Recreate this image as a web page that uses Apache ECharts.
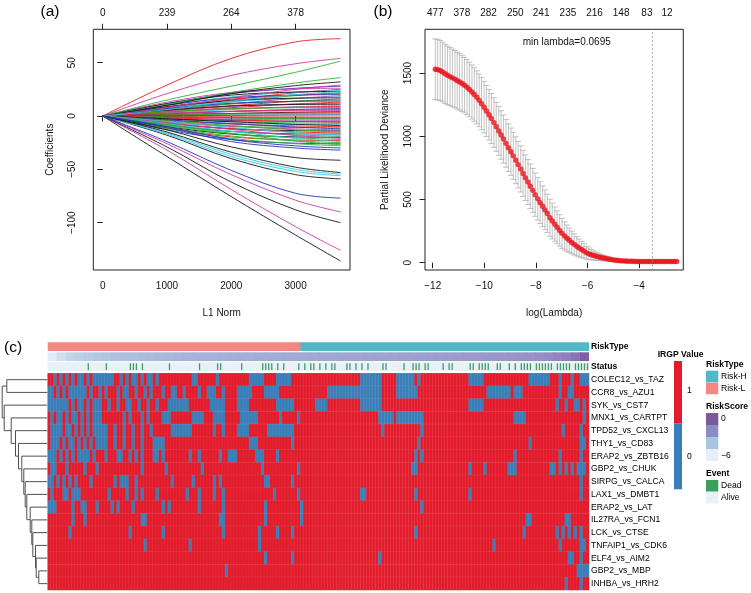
<!DOCTYPE html>
<html><head><meta charset="utf-8">
<script src="https://cdn.jsdelivr.net/npm/echarts@6/dist/echarts.min.js"></script>
<style>html,body{margin:0;padding:0;background:#fff}#c{width:751px;height:593px}</style>
</head><body><div id="c"></div>
<script>
// ================= DATA =================
// ---- Panel (a): coefficient paths ----
const l1Norm = [0, 1000, 2000, 3000, 3700];
const pathTopPos = [0, 1000, 2000, 3000];
const pathTopLabels = ['0', '239', '264', '378'];
const pathColor = [
  'b','m','r','c','k','g','r','b','m','c','k','r','g','b','r','m','k','c','r','g','b','r','m','k','r','g','b',
  'r','k','g','m','b','r','g','c','k','r','g','b','m','k','g','r','b','c','g','k','m','g','r','c','g','b','g','g',
  'r','m','g','g','k','m','c','k','m','k','m','b','k','c','c','k','k','b','b'
];
const pathCoef = [
  [0,11.8,21,26,28],[0,13,22.1,25.5,26],[0,7.5,15,21.8,25],[0,10.1,18,22.3,24],[0,11.5,19.6,22.5,23],
  [0,6.6,13.2,19.1,22],[0,8.8,15.8,19.5,21],[0,10,17,19.6,20],[0,5.7,11.4,16.5,19],[0,7.6,13.5,16.7,18],
  [0,8.5,14.5,16.7,17],[0,4.8,9.6,13.9,16],[0,6.3,11.3,14,15],[0,7,11.9,13.7,14],[0,3.9,7.8,11.3,13],
  [0,5,9,11.2,12],[0,5.5,9.4,10.8,11],[0,3,6,8.7,10],[0,3.8,6.8,8.4,9],[0,4,6.8,7.8,8],
  [0,2.1,4.2,6.1,7],[0,2.5,4.5,5.6,6],[0,2.5,4.3,4.9,5],[0,1.2,2.4,3.5,4],[0,1.3,2.3,2.8,3],
  [0,1,1.7,2,2],[0,0.3,0.6,0.9,1],
  [0,-0.4,-0.8,-0.9,-1],[0,-1,-1.7,-2,-2],[0,-0.9,-1.8,-2.6,-3],[0,-1.7,-3,-3.7,-4],[0,-2.5,-4.3,-4.9,-5],
  [0,-1.8,-3.6,-5.2,-6],[0,-2.9,-5.3,-6.5,-7],[0,-4,-6.8,-7.8,-8],[0,-2.7,-5.4,-7.8,-9],[0,-4.2,-7.5,-9.3,-10],
  [0,-5.5,-9.4,-10.8,-11],[0,-3.6,-7.2,-10.4,-12],[0,-5.5,-9.8,-12.1,-13],[0,-7,-11.9,-13.7,-14],[0,-4.5,-9,-13,-15],
  [0,-6.7,-12,-14.9,-16],[0,-8.5,-14.5,-16.7,-17],[0,-5.4,-10.8,-15.7,-18],[0,-8,-14.3,-17.7,-19],[0,-10,-17,-19.6,-20],
  [0,-6.3,-12.6,-18.3,-21],[0,-9.2,-16.5,-20.5,-22],[0,-11.5,-19.6,-22.5,-23],[0,-7.2,-14.4,-20.9,-24],[0,-10.5,-18.8,-23.3,-25],
  [0,-13,-22.1,-25.5,-26],[0,-8.1,-16.2,-23.5,-27],[0,-11.8,-21,-26,-28],
  [0,29,54,69.5,72.5],[0,21,38,49,54],[0,15,28,41,51.5],[0,11,22,31,36],[0,10,21,28.5,32],[0,8,17,25,29],[0,6,14,20,23],
  [0,-38,-75.6,-111.6,-136],[0,-32,-69,-103.8,-126],[0,-29,-62,-88,-100],[0,-26,-55,-79,-90],[0,-24,-51,-72.5,-77],
  [0,-18,-40,-55,-59],[0,-17,-38,-52,-56],[0,-16,-36,-50,-54.5],[0,-15,-34,-48,-53],[0,-13,-29,-39,-41.5],
  [0,-11,-24,-30,-32],[0,-10,-22,-28,-30]
];

// ---- Panel (b): cross-validation ----
const logLambda = [
  -11.90,-11.81,-11.71,-11.62,-11.52,-11.43,-11.33,-11.24,-11.14,-11.05,
  -10.96,-10.86,-10.77,-10.67,-10.58,-10.48,-10.39,-10.29,-10.20,-10.11,
  -10.01,-9.92,-9.82,-9.73,-9.63,-9.54,-9.44,-9.35,-9.26,-9.16,
  -9.07,-8.97,-8.88,-8.78,-8.69,-8.59,-8.50,-8.41,-8.31,-8.22,
  -8.12,-8.03,-7.93,-7.84,-7.74,-7.65,-7.56,-7.46,-7.37,-7.27,
  -7.18,-7.08,-6.99,-6.89,-6.80,-6.71,-6.61,-6.52,-6.42,-6.33,
  -6.23,-6.14,-6.04,-5.95,-5.86,-5.76,-5.67,-5.57,-5.48,-5.38,
  -5.29,-5.19,-5.10,-5.01,-4.91,-4.82,-4.72,-4.63,-4.53,-4.44,
  -4.34,-4.25,-4.16,-4.06,-3.97,-3.87,-3.78,-3.68,-3.59,-3.49,
  -3.40,-3.31,-3.21,-3.12,-3.02,-2.93,-2.83,-2.74,-2.64,-2.55
];
const cvMean = [
  1530,1527,1520,1508,1494,1482,1472,1462,1452,1440,
  1430,1418,1404,1388,1370,1350,1330,1308,1284,1258,
  1230,1200,1170,1140,1108,1075,1042,1010,978,944,
  910,878,845,810,776,742,706,672,638,605,
  572,538,505,475,446,418,390,355,330,305,
  280,255,232,212,194,177,160,145,130,117,
  104,93,78,70,63,57,51,46,41,37,
  33,29,25,22,19,17,15,14,13,12,
  11,11,10,10,10,10,10,10,10,10,
  10,10,10,10,10,10,10,10,10,10
];
const cvSE = [
  240,240,238,236,234,232,230,228,226,225,
  224,222,220,218,216,214,212,210,208,206,
  204,202,200,198,196,194,193,192,190,189,
  188,187,186,185,184,183,182,180,178,176,
  174,171,168,165,161,157,152,147,142,136,
  130,124,118,111,104,97,90,83,76,70,
  63,57,51,46,41,36,32,28,25,22,
  19,16,14,12,11,10,9,8,7,6,
  6,5,5,5,5,4,4,4,4,4,
  4,4,4,4,4,4,4,4,4,4
];
const nzeroPos = [-11.9,-10.87,-9.84,-8.8,-7.8,-6.76,-5.73,-4.7,-3.7,-2.92];
const nzeroLabels = ['477','378','282','250','241','235','216','148','83','12'];
const minLineLog = -3.48;
const minLambdaText = 'min lambda=0.0695';

// ---- Panel (c): IRGP heatmap ----
const pairNames = ['COLEC12_vs_TAZ','CCR8_vs_AZU1','SYK_vs_CST7','MNX1_vs_CARTPT','TPD52_vs_CXCL13','THY1_vs_CD83',
  'ERAP2_vs_ZBTB16','GBP2_vs_CHUK','SIRPG_vs_CALCA','LAX1_vs_DMBT1','ERAP2_vs_LAT','IL27RA_vs_FCN1','LCK_vs_CTSE',
  'TNFAIP1_vs_CDK6','ELF4_vs_AIM2','GBP2_vs_MBP','INHBA_vs_HRH2'];
const nCols = 180;            // sample columns (sorted by risk score)
const lowRiskCols = 84;       // first columns are Risk-L
// value-0 (blue) runs per row, inclusive [start,end]; everything else is 1 (red)
const zeroRuns = [
  [[2,2],[4,4],[6,6],[8,8],[10,11],[13,13],[15,21],[24,24],[26,26],[28,29],[31,31],[33,34],[36,36],[48,49],[56,56],[67,71],[76,80],[104,110],[116,121],[123,123],[140,144],[160,166],[170,170],[174,174],[177,179]],
  [[0,1],[3,3],[5,5],[7,12],[14,14],[17,17],[19,19],[23,23],[25,26],[29,29],[32,32],[34,34],[38,38],[41,42],[45,45],[50,50],[53,55],[58,58],[63,67],[72,76],[93,110],[116,122],[146,153],[155,157],[170,170],[173,174]],
  [[0,6],[8,8],[10,11],[13,13],[15,17],[20,20],[23,23],[26,27],[30,30],[33,33],[36,36],[40,46],[54,58],[63,66],[76,81],[89,92],[104,110],[140,144],[169,169],[172,172],[175,176],[178,178]],
  [[1,1],[3,4],[6,6],[8,9],[11,11],[13,13],[15,17],[25,25],[27,27],[31,31],[33,33],[38,40],[48,51],[55,58],[64,69],[77,77],[83,83],[110,114],[116,124],[155,158],[178,178]],
  [[1,4],[6,7],[9,9],[11,11],[13,13],[15,19],[22,22],[25,25],[28,28],[31,31],[34,34],[41,47],[55,55],[58,58],[63,66],[73,81],[111,111],[124,124],[171,171],[177,177]],
  [[1,3],[5,5],[7,8],[10,10],[12,12],[14,14],[16,19],[22,22],[25,25],[28,28],[31,31],[35,38],[67,69],[81,81],[123,123],[160,160],[177,178]],
  [[0,2],[4,4],[6,6],[8,8],[10,13],[15,15],[19,19],[23,24],[27,27],[29,29],[31,31],[35,36],[38,38],[47,47],[50,50],[57,57],[60,62],[69,71],[76,76],[122,122],[124,124],[155,155],[170,170],[177,177]],
  [[1,2],[6,6],[12,12],[16,16],[31,31],[39,39],[51,51],[71,71],[83,83],[121,122],[140,140],[145,145],[153,155],[167,168],[170,170],[172,172],[174,174],[176,178]],
  [[0,1],[3,3],[5,5],[7,7],[9,9],[14,14],[22,22],[24,26],[29,29],[41,41],[48,48],[55,55],[57,57],[72,73],[81,81],[177,177]],
  [[1,1],[5,6],[8,10],[20,20],[26,26],[29,29],[31,31],[36,36],[46,46],[50,50],[55,55],[58,58],[75,75],[83,83],[104,105],[122,122],[140,140],[177,177]],
  [[0,2],[8,8],[11,12],[16,16],[21,21],[23,23],[28,28],[38,38],[40,40],[50,50],[58,58],[72,72],[84,84],[124,124]],
  [[8,8],[12,12],[31,32],[57,58],[72,72],[84,84],[159,160],[172,173]],
  [[7,7],[27,27],[38,38],[58,58],[70,70],[76,76],[81,81],[122,122],[158,158],[169,169],[171,171],[173,173],[175,175],[177,177]],
  [[32,32],[47,47],[70,70],[148,148],[170,170],[177,178]],
  [[72,72],[81,81],[110,110],[173,174],[177,177]],
  [[59,59],[176,179]],
  [[172,172],[177,177]]
];
// risk score, one value per block of 3 sample columns (ascending)
const riskScore = [
  -6.0,-5.2,-4.7,-4.4,-4.2,-4.0,-3.85,-3.7,-3.6,-3.5,
  -3.42,-3.35,-3.28,-3.22,-3.16,-3.1,-3.05,-3.0,-2.96,-2.92,
  -2.88,-2.84,-2.8,-2.77,-2.74,-2.71,-2.68,-2.65,-2.62,-2.59,
  -2.56,-2.53,-2.5,-2.47,-2.44,-2.41,-2.38,-2.35,-2.32,-2.29,
  -2.26,-2.22,-2.18,-2.14,-2.1,-2.06,-2.02,-1.97,-1.92,-1.87,
  -1.82,-1.76,-1.69,-1.61,-1.52,-1.41,-1.28,-1.1,-0.8,-0.2
];
// sample columns with Dead status
const deadCols = [13,19,27,28,29,31,40,50,56,57,64,71,72,73,74,76,78,83,85,87,88,90,92,94,95,99,100,102,104,106,
  111,112,118,121,122,123,125,126,131,133,134,140,141,143,144,145,146,149,150,153,155,157,158,159,160,162,163,164,
  165,166,167,169,170,171,172,173,175,176,177,178,179];
const annotNames = ['RiskType','RiskScore','Status'];
// row dendrogram, hclust-style merges: negative = leaf (1-based), positive = earlier merge; third = height
const dendroMerges = [
  [-16,-17,8.4],[-15,1,11.0],[-14,2,11.7],[-13,3,14.4],[-12,4,15.4],[-11,5,17.0],[-10,6,20.4],[-9,7,22.0],
  [-8,8,23.4],[-7,9,25.4],[-6,10,28.7],[-5,11,31.7],[-4,12,36.0],[-1,-2,40.4],[-3,13,43.0],[14,15,45.0]
];
const legendIRGP = {title:'IRGP Value', labels:['1','0']};
const legendRiskType = {title:'RiskType', labels:['Risk-H','Risk-L']};
const legendRiskScore = {title:'RiskScore', labels:['0','\u22126']};
const legendEvent = {title:'Event', labels:['Dead','Alive']};

// ================= STYLE =================
const FF = 'Liberation Sans, Arial, Helvetica, sans-serif';
const COL = {k:'#141414', r:'#EE1C1C', g:'#2DB02D', b:'#2630C0', c:'#2CC8E0', m:'#CC3AA8'};
const RED = '#E21C2C', BLUE = '#3A7EB7';
const RISK_H = '#4FB9C8', RISK_L = '#F4877F';
const DEAD = '#3E9E5E', ALIVE = '#E8F1F8';
const SCORE_COLORS = ['#E2ECF6','#BDD3E8','#A3B3D7','#978FC5','#7B559C'];
const fmtMinus = v => (v < 0 ? '\u2212' + Math.abs(v) : String(v));
const TXT = {fontFamily: FF, fontSize: 10, color: '#111'};

// ================= BUILD =================
const series = [];
// (a)
pathCoef.forEach((vals, i) => {
  series.push({type:'line', xAxisIndex:0, yAxisIndex:0, silent:true, showSymbol:false, smooth:0.35,
    lineStyle:{width:0.9, color: COL[pathColor[i]]}, data: l1Norm.map((x, j) => [x, vals[j]])});
});
// (b) error bars
series.push({type:'custom', xAxisIndex:2, yAxisIndex:1, silent:true,
  data: logLambda.map((x, i) => [x, cvMean[i] - cvSE[i], cvMean[i] + cvSE[i]]),
  renderItem: (p, api) => {
    const x = api.value(0), lo = api.coord([x, api.value(1)]), hi = api.coord([x, api.value(2)]);
    const st = {stroke:'#B2B2B2', lineWidth:0.8}, cap = 3;
    return {type:'group', children:[
      {type:'line', shape:{x1:lo[0], y1:lo[1], x2:hi[0], y2:hi[1]}, style:st},
      {type:'line', shape:{x1:hi[0]-cap, y1:hi[1], x2:hi[0]+cap, y2:hi[1]}, style:st},
      {type:'line', shape:{x1:lo[0]-cap, y1:lo[1], x2:lo[0]+cap, y2:lo[1]}, style:st}]};
  }});
series.push({type:'scatter', xAxisIndex:2, yAxisIndex:1, silent:true, symbolSize:5.4,
  itemStyle:{color:'#E8141C'}, data: logLambda.map((x, i) => [x, cvMean[i]]),
  markLine:{silent:true, symbol:'none', label:{show:false},
    lineStyle:{type:[1.5,2.5], color:'#8A8A8A', width:0.9}, data:[{xAxis:minLineLog}]}});
// (c) annotation rows
const annotRect = (fillFn) => (p, api) => {
  const s = api.coord([api.value(0), api.value(2)]), e = api.coord([api.value(1), api.value(2)]);
  const h = api.size([0, 1])[1];
  const ov = p.dataIndex < p.dataInsideLength - 1 ? 0.8 : 0;
  return {type:'rect', shape:{x:s[0], y:s[1]-h/2+0.6, width:e[0]-s[0]+ov, height:h-1.2}, style:{fill: fillFn(api)}};
};
series.push({type:'custom', xAxisIndex:4, yAxisIndex:2, silent:true,
  data:[[0, lowRiskCols, 0, 0], [lowRiskCols, nCols, 0, 1]],
  renderItem: annotRect(api => api.value(3) === 0 ? RISK_L : RISK_H)});
const scoreSeriesIndex = series.length;
series.push({type:'custom', xAxisIndex:4, yAxisIndex:2, silent:true,
  data: riskScore.map((v, i) => [i*3, i*3+3, 1, v]),
  renderItem: annotRect(api => api.visual('color'))});
series.push({type:'custom', xAxisIndex:4, yAxisIndex:2, silent:true,
  data:[[0, nCols, 2]], renderItem: annotRect(() => ALIVE)});
series.push({type:'custom', xAxisIndex:4, yAxisIndex:2, silent:true,
  data: deadCols.map(c => [c + 0.5, 2]),
  renderItem: (p, api) => {
    const c = api.coord([api.value(0), api.value(1)]), h = api.size([0, 1])[1];
    return {type:'rect', shape:{x:c[0]-0.65, y:c[1]-h/2+1.6, width:1.3, height:h-3.2}, style:{fill:DEAD}};
  }});
// (c) heatmap cells
const hmData = [];
zeroRuns.forEach((runs, r) => {
  for (let c = 0; c < nCols; c++) {
    const isZero = runs.some(([s, e]) => c >= s && c <= e);
    hmData.push([c, r, isZero ? 0 : 1]);
  }
});
const hmSeriesIndex = series.length;
series.push({type:'heatmap', xAxisIndex:5, yAxisIndex:3, silent:true, progressive:0, data: hmData,
  itemStyle:{borderColor:'rgba(255,255,255,0.12)', borderWidth:0.5}, emphasis:{disabled:true}});
// (c) dendrogram
const leafPos = i => i - 1;
const mPos = [], mH = [];
const segs = dendroMerges.map(([a, b, h]) => {
  const ya = a < 0 ? leafPos(-a) : mPos[a-1], ha = a < 0 ? 0 : mH[a-1];
  const yb = b < 0 ? leafPos(-b) : mPos[b-1], hb = b < 0 ? 0 : mH[b-1];
  mPos.push((ya + yb) / 2); mH.push(h);
  return [ya, ha, yb, hb, h];
});
series.push({type:'custom', xAxisIndex:6, yAxisIndex:4, silent:true, data: segs,
  renderItem: (p, api) => {
    const ya = api.value(0), ha = api.value(1), yb = api.value(2), hb = api.value(3), h = api.value(4);
    const pts = [api.coord([ha, ya]), api.coord([h, ya]), api.coord([h, yb]), api.coord([hb, yb])];
    return {type:'polyline', shape:{points:pts}, style:{stroke:'#505050', lineWidth:1, fill:null}};
  }});

const noSplit = {show:false};
const hidden = {show:false};
const lookup = (pos, lab) => v => { const i = pos.findIndex(p => Math.abs(p - v) < 1e-6); return i < 0 ? '' : lab[i]; };

const option = {
  animation:false,
  backgroundColor:'#fff',
  grid:[
    {left:93.3, top:29.3, width:256.7, height:240.7, show:true, borderColor:'#222', borderWidth:1, backgroundColor:'transparent'},
    {left:425, top:29.3, width:258.3, height:240.7, show:true, borderColor:'#222', borderWidth:1, backgroundColor:'transparent'},
    {left:47.7, top:341.7, width:541.3, height:30},
    {left:47.7, top:373.3, width:541.3, height:216.7},
    {left:0, top:373.3, width:47.2, height:216.7}
  ],
  xAxis:[
    {type:'value', gridIndex:0, min:-146, max:3846, splitLine:noSplit, axisLine:hidden,
     axisTick:{customValues:[0,1000,2000,3000], length:5.5, lineStyle:{color:'#222'}},
     axisLabel:{customValues:[0,1000,2000,3000], margin:11, formatter:fmtMinus, ...TXT},
     name:'L1 Norm', nameLocation:'middle', nameGap:38, nameTextStyle:{...TXT}},
    {type:'value', gridIndex:0, position:'top', min:-146, max:3846, splitLine:noSplit, axisLine:hidden,
     axisTick:{customValues:pathTopPos, length:5.5, lineStyle:{color:'#222'}},
     axisLabel:{customValues:pathTopPos, margin:11, formatter: lookup(pathTopPos, pathTopLabels), ...TXT}},
    {type:'value', gridIndex:1, min:-12.3, max:-2.29, splitLine:noSplit, axisLine:hidden,
     axisTick:{customValues:[-12,-10,-8,-6,-4], length:5.5, lineStyle:{color:'#222'}},
     axisLabel:{customValues:[-12,-10,-8,-6,-4], margin:11, formatter:fmtMinus, ...TXT},
     name:'log(Lambda)', nameLocation:'middle', nameGap:38, nameTextStyle:{...TXT}},
    {type:'value', gridIndex:1, position:'top', min:-12.3, max:-2.29, splitLine:noSplit, axisLine:hidden,
     axisTick:{show:false},
     axisLabel:{customValues:nzeroPos, margin:11, formatter: lookup(nzeroPos, nzeroLabels), ...TXT}},
    {type:'value', gridIndex:2, min:0, max:nCols, show:false},
    {type:'category', gridIndex:3, data:[...Array(nCols).keys()], show:false},
    {type:'value', gridIndex:4, min:0, max:47.2, inverse:true, show:false}
  ],
  yAxis:[
    {type:'value', gridIndex:0, min:-144.4, max:81.3, splitLine:noSplit, axisLine:hidden,
     axisTick:{customValues:[-100,-50,0,50], length:5.5, lineStyle:{color:'#222'}},
     axisLabel:{customValues:[-100,-50,0,50], rotate:90, margin:16, formatter:fmtMinus, ...TXT},
     name:'Coefficients', nameLocation:'middle', nameRotate:90, nameGap:38, nameTextStyle:{...TXT}},
    {type:'value', gridIndex:1, min:-57.8, max:1846, splitLine:noSplit, axisLine:hidden,
     axisTick:{customValues:[0,500,1000,1500], length:5.5, lineStyle:{color:'#222'}},
     axisLabel:{customValues:[0,500,1000,1500], rotate:90, margin:12, formatter:fmtMinus, ...TXT},
     name:'Partial Likelihood Deviance', nameLocation:'middle', nameRotate:90, nameGap:35, nameTextStyle:{...TXT}},
    {type:'category', gridIndex:2, data:annotNames, inverse:true, position:'right',
     axisLine:hidden, axisTick:hidden, splitLine:noSplit,
     axisLabel:{margin:2, fontFamily:FF, fontSize:8.6, fontWeight:'bold', color:'#000'}},
    {type:'category', gridIndex:3, data:pairNames, inverse:true, position:'right',
     axisLine:hidden, axisTick:hidden, splitLine:noSplit,
     axisLabel:{margin:2, fontFamily:FF, fontSize:8.6, color:'#000', interval:0}},
    {type:'value', gridIndex:4, min:-0.5, max:pairNames.length - 0.5, inverse:true, show:false}
  ],
  visualMap:[
    {type:'piecewise', show:false, seriesIndex:hmSeriesIndex, dimension:2,
     pieces:[{value:0, color:BLUE}, {value:1, color:RED}]},
    {type:'continuous', show:false, seriesIndex:scoreSeriesIndex, dimension:3, min:-6, max:0,
     inRange:{color:SCORE_COLORS}}
  ],
  series: series,
  graphic: (() => {
    const g = [];
    const t = (x, y, text, o = {}) => g.push({type:'text', x, y, silent:true,
      style:{text, fontFamily:FF, fontSize:o.fs || 8.6, fontWeight:o.fw || 'normal', fill:'#000',
             align:o.al || 'left', verticalAlign:'middle'}});
    const r = (x, y, w, h, fill) => g.push({type:'rect', silent:true, shape:{x, y, width:w, height:h}, style:{fill}});
    t(50, 12, '(a)', {fs:15.5, al:'center'});
    t(383, 12, '(b)', {fs:15.5, al:'center'});
    t(13, 348, '(c)', {fs:15.5, al:'center'});
    g.push({type:'text', x:566.7, y:42.7, silent:true,
      style:{text:minLambdaText, fontFamily:FF, fontSize:10, fill:'#111', align:'center', verticalAlign:'middle'}});
    // IRGP value legend
    t(657.7, 354.3, legendIRGP.title, {fw:'bold'});
    r(674, 361, 8, 62.3, RED); r(674, 423.3, 8, 66, BLUE);
    t(687, 391, legendIRGP.labels[0]); t(687, 457, legendIRGP.labels[1]);
    // RiskType
    t(706, 364.3, legendRiskType.title, {fw:'bold'});
    r(706, 370.7, 12.3, 11.6, RISK_H); r(706, 382.6, 12.3, 11.6, RISK_L);
    t(721, 376.5, legendRiskType.labels[0]); t(721, 388.5, legendRiskType.labels[1]);
    // RiskScore
    t(706, 406.7, legendRiskScore.title, {fw:'bold'});
    ['#7A5A9B','#8A8CC2','#A8C6DF','#E6EFF8'].forEach((c, i) => r(706, 413 + i*12, 12.3, 12, c));
    t(721, 419, legendRiskScore.labels[0]); t(721, 455.7, legendRiskScore.labels[1]);
    // Event
    t(706, 474, legendEvent.title, {fw:'bold'});
    r(706, 480, 12.3, 11.7, DEAD); r(706, 491.7, 12.3, 11.7, ALIVE);
    t(721, 486, legendEvent.labels[0]); t(721, 498, legendEvent.labels[1]);
    return g;
  })()
};
const chart = echarts.init(document.getElementById('c'), null, {renderer:'canvas'});
chart.setOption(option);
</script></body></html>
